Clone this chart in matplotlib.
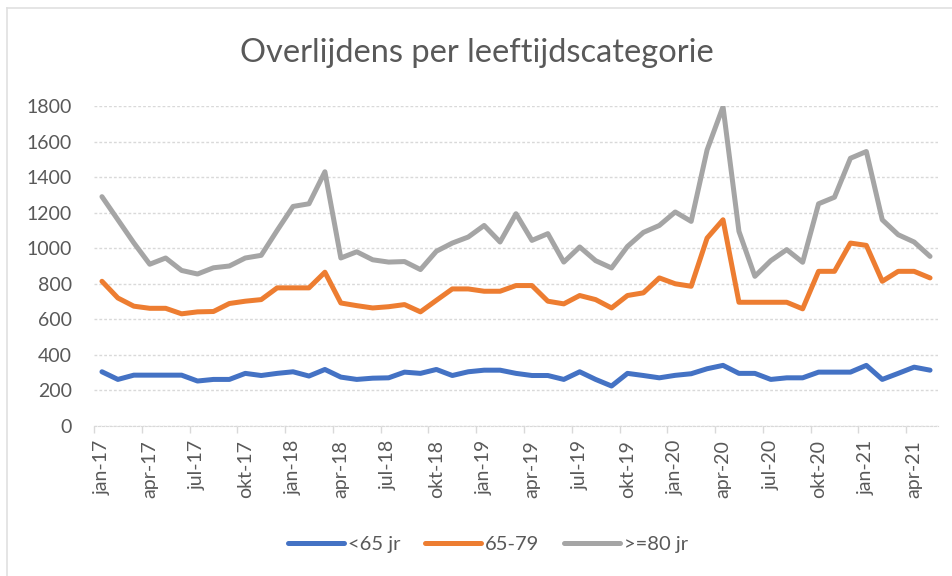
import numpy as np
import matplotlib
matplotlib.use("Agg")
import matplotlib.pyplot as plt
from matplotlib.lines import Line2D

plt.rcParams['font.family'] = ['Lato', 'DejaVu Sans']

maanden = ['jan', 'feb', 'mrt', 'apr', 'mei', 'jun', 'jul', 'aug', 'sep', 'okt', 'nov', 'dec']
categories = [f"{maanden[m]}-{17 + (i // 12)}" for i, m in ((i, i % 12) for i in range(53))]

onder_65 = [305, 262, 286, 286, 286, 286, 253, 262, 262, 296, 284, 296, 305, 281, 318, 275, 262, 269,
            271, 303, 296, 318, 284, 305, 314, 314, 296, 284, 284, 262, 305, 262, 225, 296, 284, 271,
            285, 294, 322, 341, 296, 296, 262, 271, 271, 303, 303, 303, 341, 262, 296, 331, 314]
van_65_79 = [814, 720, 674, 662, 662, 631, 642, 644, 689, 702, 711, 777, 777, 777, 865, 692, 677, 664,
             671, 683, 642, 707, 771, 771, 758, 758, 790, 790, 702, 687, 734, 711, 664, 734, 749, 833,
             800, 786, 1057, 1160, 696, 696, 696, 696, 659, 870, 870, 1029, 1016, 814, 870, 870, 833]
boven_80 = [1290, 1160, 1030, 910, 945, 875, 855, 890, 900, 945, 960, 1100, 1235, 1250, 1430, 945, 980, 935,
            922, 925, 880, 983, 1029, 1063, 1128, 1035, 1194, 1044, 1082, 922, 1007, 930, 889, 1010, 1089, 1128,
            1204, 1151, 1553, 1796, 1095, 842, 930, 992, 921, 1250, 1287, 1506, 1544, 1160, 1076, 1035, 954]

series = [("<65 jr", onder_65, '#4472C4'),
          ("65-79", van_65_79, '#ED7D31'),
          (">=80 jr", boven_80, '#A5A5A5')]

W, H = 953, 576
fig = plt.figure(figsize=(W / 100, H / 100), dpi=100)
ax = fig.add_axes([94 / W, 1 - 426 / H, (938 - 94) / W, (426 - 106) / H])

x = np.arange(len(categories))
handles = []
for name, vals, col in series:
    h, = ax.plot(x, vals, color=col, lw=3.6, solid_joinstyle='round', solid_capstyle='round', label=name)
    handles.append(h)

ax.set_xlim(-0.5, len(categories) - 0.5)
ax.set_ylim(0, 1800)
ax.set_yticks(np.arange(0, 1801, 200))
ax.yaxis.grid(True, color='#d9d9d9', linestyle=(0, (2, 1.5)), linewidth=1)
ax.set_axisbelow(True)
for s in ['top', 'right', 'left']:
    ax.spines[s].set_visible(False)
ax.spines['bottom'].set_color('#d9d9d9')
ax.spines['bottom'].set_linestyle((0, (2, 1.5)))

ax.tick_params(axis='y', length=0, pad=16, labelsize=14, labelcolor='#595959')
ax.set_xticks(x[::3])
ax.set_xticklabels(categories[::3], rotation=90)
ax.tick_params(axis='x', which='major', length=0, pad=10, labelsize=14, labelcolor='#595959')
ax.set_xticks(np.arange(-0.5, len(categories), 3), minor=True)
ax.tick_params(axis='x', which='minor', length=5, width=1, color='#d9d9d9')

fig.text(477 / W, 1 - 62 / H, "Overlijdens per leeftijdscategorie", ha='center', va='baseline',
         fontsize=23.5, color='#595959')

leg = fig.legend(handles=handles, loc='center', bbox_to_anchor=(488 / W, 1 - 544 / H), ncol=3,
                 frameon=False, fontsize=14.5, handlelength=2.8, handletextpad=0.2, columnspacing=1.2,
                 labelcolor='#595959')

fig.add_artist(Line2D([7 / W, 7 / W], [0, 1 - 8 / H], color='#e0e0e0', lw=1.2, transform=fig.transFigure))
fig.add_artist(Line2D([7 / W, 1], [1 - 8 / H, 1 - 8 / H], color='#e0e0e0', lw=1.2, transform=fig.transFigure))

fig.savefig("out.png", dpi=100)
